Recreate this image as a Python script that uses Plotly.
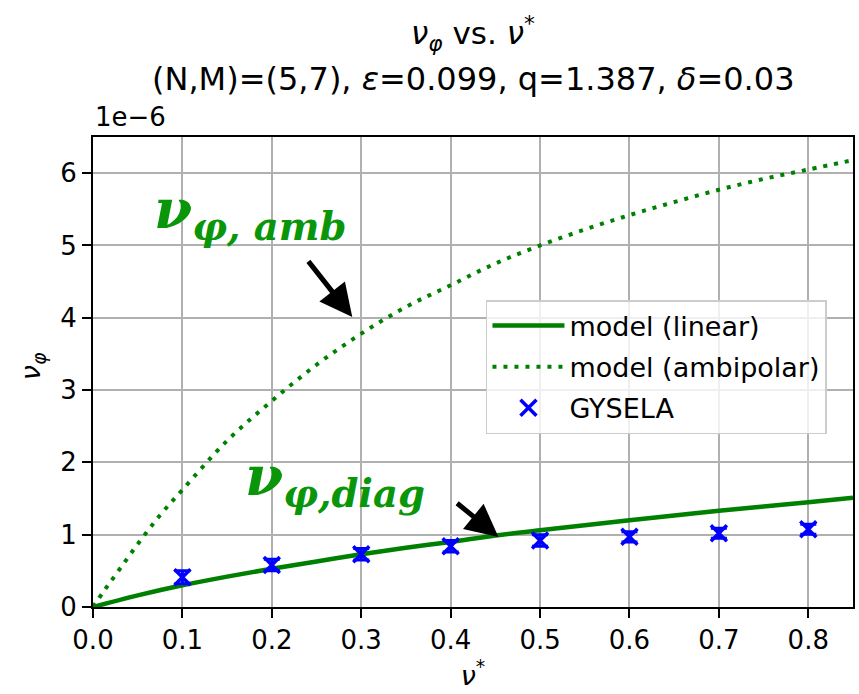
import plotly.graph_objects as go

# GYSELA simulation points (nu_phi in units of 1e-6)
nu_star_gysela = [0.1, 0.2, 0.3, 0.4, 0.5, 0.6, 0.7, 0.8]
nu_phi_gysela = [0.41, 0.58, 0.73, 0.84, 0.92, 0.97, 1.02, 1.075]
nu_phi_gysela_err = [0.09, 0.08, 0.08, 0.08, 0.08, 0.07, 0.07, 0.07]

# linear model curve
nu_star_lin = [0.0, 0.05, 0.1, 0.15, 0.2, 0.25, 0.3, 0.35, 0.4, 0.45,
               0.5, 0.55, 0.6, 0.65, 0.7, 0.75, 0.8, 0.85]
nu_phi_lin = [0.0, 0.16, 0.30, 0.42, 0.53, 0.63, 0.73, 0.82, 0.90, 0.99,
              1.06, 1.13, 1.20, 1.265, 1.33, 1.39, 1.45, 1.51]

# ambipolar model curve
nu_star_amb = [0.0, 0.0115, 0.025, 0.05, 0.075, 0.1, 0.15, 0.2, 0.25, 0.3,
               0.35, 0.4, 0.45, 0.5, 0.55, 0.6, 0.65, 0.7, 0.75, 0.8, 0.85]
nu_phi_amb = [0.0, 0.21, 0.44, 0.87, 1.27, 1.62, 2.30, 2.85, 3.35, 3.78,
              4.15, 4.45, 4.75, 5.00, 5.22, 5.42, 5.60, 5.77, 5.92, 6.05, 6.18]

x_ticks = [0.0, 0.1, 0.2, 0.3, 0.4, 0.5, 0.6, 0.7, 0.8]
x_tick_labels = ["0.0", "0.1", "0.2", "0.3", "0.4", "0.5", "0.6", "0.7", "0.8"]
y_ticks = [0, 1, 2, 3, 4, 5, 6]
y_tick_labels = ["0", "1", "2", "3", "4", "5", "6"]

title_lines = [
    "<i>ν</i><sub><i>φ</i></sub> vs. <i>ν</i><sup>*</sup>",
    "(N,M)=(5,7), <i>ε</i>=0.099, q=1.387, <i>δ</i>=0.03",
]

SCALE = 1e-6
GREEN = "#008000"
LABEL_GREEN = "#0a960a"
BLUE = "#0000ff"
SANS = "DejaVu Sans"
SERIF = "DejaVu Serif"

# plot-area geometry in pixels
FIG_W, FIG_H = 859, 694
L, R, T, B = 93, 4, 137, 87
PLOT_W = FIG_W - L - R
PLOT_H = FIG_H - T - B


def scaled(values):
    return [v * SCALE for v in values]


def paper_y(py):
    return (FIG_H - B - py) / PLOT_H


def paper_x(px):
    return (px - L) / PLOT_W


fig = go.Figure()

fig.add_trace(go.Scatter(
    x=nu_star_lin, y=scaled(nu_phi_lin), mode="lines", name="model (linear)",
    line=dict(color=GREEN, width=4.5, shape="spline"), legendgroup="a",
))
fig.add_trace(go.Scatter(
    x=nu_star_amb, y=scaled(nu_phi_amb), mode="lines", name="model (ambipolar)",
    line=dict(color=GREEN, width=4, dash="4px,7px", shape="spline"), legendgroup="b",
))
fig.add_trace(go.Scatter(
    x=nu_star_gysela, y=scaled(nu_phi_gysela), mode="markers", name="GYSELA",
    marker=dict(symbol="x-thin-open", size=16, color=BLUE, line=dict(color=BLUE, width=3.5)),
    error_y=dict(type="data", array=scaled(nu_phi_gysela_err), color=BLUE,
                 thickness=3, width=8),
    legendgroup="c",
))

# title lines
for text, py, size in [(title_lines[0], 34, 31), (title_lines[1], 79, 32)]:
    fig.add_annotation(
        x=0.5, y=paper_y(py), xref="paper", yref="paper", xanchor="center",
        yanchor="middle", text=text, showarrow=False,
        font=dict(family=SANS, size=size, color="black"),
    )

# curve labels
fig.add_annotation(
    x=0.066, y=5.46 * SCALE, xref="x", yref="y", xanchor="left", yanchor="middle",
    text="<b><i>ν<sub>φ, amb</sub></i></b>", showarrow=False,
    font=dict(family=SERIF, size=55, color=LABEL_GREEN),
)
fig.add_annotation(
    x=0.168, y=1.76 * SCALE, xref="x", yref="y", xanchor="left", yanchor="middle",
    text="<b><i>ν<sub>φ,diag</sub></i></b>", showarrow=False,
    font=dict(family=SERIF, size=55, color=LABEL_GREEN),
)

# arrows pointing at the curves
for tip, tail in [((0.290, 4.01), (0.2396, 4.80)), ((0.4535, 0.968), (0.4056, 1.452))]:
    fig.add_annotation(
        x=tip[0], y=tip[1] * SCALE, ax=tail[0], ay=tail[1] * SCALE,
        xref="x", yref="y", axref="x", ayref="y", text="",
        showarrow=True, arrowhead=2, arrowsize=1.3, arrowwidth=5,
        arrowcolor="black", standoff=0,
    )

# axis offset label
fig.add_annotation(
    x=0, y=1.0, xref="paper", yref="paper", xanchor="left", yanchor="bottom",
    yshift=3, text="1e\u22126", showarrow=False,
    font=dict(family=SANS, size=26, color="black"),
)

# y axis label
fig.add_annotation(
    x=paper_x(32), y=paper_y(366), xref="paper", yref="paper",
    xanchor="center", yanchor="middle", text="<i>ν</i><sub><i>φ</i></sub>",
    showarrow=False, textangle=-90, font=dict(family=SANS, size=27, color="black"),
)

axis_common = dict(
    showline=True, linecolor="black", linewidth=2, mirror=True,
    ticks="outside", ticklen=9, tickwidth=2, tickcolor="black",
    showgrid=True, gridcolor="#b0b0b0", gridwidth=2,
    zeroline=False, tickfont=dict(family=SANS, size=26, color="black"),
)

fig.update_layout(
    width=FIG_W, height=FIG_H,
    margin=dict(l=L, r=R, t=T, b=B),
    paper_bgcolor="white", plot_bgcolor="white",
    font=dict(family=SANS, color="black"),
    xaxis=dict(
        range=[0, 0.85], tickvals=x_ticks, ticktext=x_tick_labels,
        title=dict(text="<i>ν</i><sup>*</sup>", font=dict(family=SANS, size=27), standoff=10),
        **axis_common,
    ),
    yaxis=dict(
        range=[0, 6.5 * SCALE], tickvals=scaled(y_ticks), ticktext=y_tick_labels,
        **axis_common,
    ),
    legend=dict(
        x=paper_x(487), y=paper_y(300), xanchor="left", yanchor="top",
        bgcolor="rgba(255,255,255,0.8)", bordercolor="#cccccc", borderwidth=1.5,
        font=dict(family=SANS, size=27, color="black"),
        tracegroupgap=3, traceorder="grouped", itemwidth=72,
    ),
    showlegend=True,
)

fig.write_html("out.html")
